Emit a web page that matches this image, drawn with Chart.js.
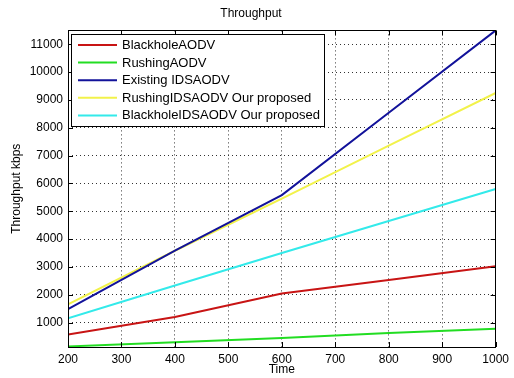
<!DOCTYPE html>
<html>
<head>
<meta charset="utf-8">
<script src="https://cdn.jsdelivr.net/npm/chart.js@4.4.1/dist/chart.umd.min.js"></script>
<style>
  body { margin: 0; background: #fff; }
  #wrap { width: 514px; height: 378px; position: relative; }
</style>
</head>
<body>
<div id="wrap"><canvas id="throughputChart"></canvas></div>
<script>
// values
const timeValues = [200, 400, 600, 800, 1000];
const blackholeAodv = [570, 1200, 2040, 2530, 3020];
const rushingAodv = [140, 290, 440, 620, 780];
const existingIdsAodv = [1480, 3580, 5580, 8540, 11500];
const rushingIdsAodv = [1650, 3580, 5450, 7360, 9250];
const blackholeIdsAodv = [1150, 2330, 3500, 4650, 5800];

const xTicks = [200, 300, 400, 500, 600, 700, 800, 900, 1000];
const yTicks = [1000, 2000, 3000, 4000, 5000, 6000, 7000, 8000, 9000, 10000, 11000];

const fontFamily = "'Liberation Sans', Arial, sans-serif";

function toPoints(arr) {
  return timeValues.map((t, i) => ({ x: t, y: arr[i] }));
}

function series(label, arr, color) {
  return {
    label: label,
    data: toPoints(arr),
    borderColor: color,
    backgroundColor: color,
    borderWidth: 2,
    pointRadius: 0,
    tension: 0,
    fill: false
  };
}

// MATLAB-like box, inward ticks and legend drawn on top
const matlabLook = {
  id: 'matlabLook',
  afterDatasetsDraw(chart) {
    const ctx = chart.ctx;
    const a = chart.chartArea;
    const xs = chart.scales.x, ys = chart.scales.y;
    ctx.save();
    ctx.strokeStyle = '#000';
    ctx.lineWidth = 1;
    ctx.setLineDash([]);
    ctx.beginPath();
    xTicks.forEach(v => {
      const px = Math.round(xs.getPixelForValue(v)) + 0.5;
      ctx.moveTo(px, a.bottom); ctx.lineTo(px, a.bottom - 5);
      ctx.moveTo(px, a.top); ctx.lineTo(px, a.top + 5);
    });
    yTicks.forEach(v => {
      const py = Math.round(ys.getPixelForValue(v)) + 0.5;
      ctx.moveTo(a.left, py); ctx.lineTo(a.left + 5, py);
      ctx.moveTo(a.right, py); ctx.lineTo(a.right - 5, py);
    });
    ctx.stroke();
    ctx.strokeRect(Math.round(a.left) + 0.5, Math.round(a.top) + 0.5,
      Math.round(a.right - a.left) - 1, Math.round(a.bottom - a.top));

    // legend
    const lx = 71.5, ly = 34.5, lw = 253, lh = 92;
    ctx.fillStyle = '#fff';
    ctx.fillRect(lx, ly, lw, lh);
    ctx.strokeRect(lx, ly, lw, lh);
    ctx.font = '13px ' + fontFamily;
    ctx.textBaseline = 'middle';
    chart.data.datasets.forEach((ds, i) => {
      const y = 45 + i * 17.6;
      ctx.strokeStyle = ds.borderColor;
      ctx.lineWidth = 2;
      ctx.beginPath();
      ctx.moveTo(78, y); ctx.lineTo(117, y);
      ctx.stroke();
      ctx.fillStyle = '#000';
      ctx.fillText(ds.label, 122, y + 0.5);
    });
    ctx.restore();
  }
};

new Chart(document.getElementById('throughputChart'), {
  type: 'line',
  data: {
    datasets: [
      series('BlackholeAODV', blackholeAodv, '#c81414'),
      series('RushingAODV', rushingAodv, '#22dd22'),
      series('Existing IDSAODV', existingIdsAodv, '#12129a'),
      series('RushingIDSAODV Our proposed', rushingIdsAodv, '#f2f24a'),
      series('BlackholeIDSAODV Our proposed', blackholeIdsAodv, '#33eaea')
    ]
  },
  options: {
    responsive: true,
    maintainAspectRatio: false,
    animation: false,
    layout: { padding: { left: 0, right: 12, top: 0, bottom: 0 } },
    plugins: {
      legend: { display: false },
      tooltip: { enabled: false },
      title: {
        display: true,
        text: 'Throughput',
        color: '#000',
        font: { family: fontFamily, size: 12, weight: 'normal' },
        padding: { top: 6, bottom: 10 }
      }
    },
    scales: {
      x: {
        type: 'linear',
        min: 200,
        max: 1000,
        afterBuildTicks: s => { s.ticks = xTicks.map(v => ({ value: v })); },
        afterFit: s => { s.height = 31; },
        ticks: {
          color: '#000',
          font: { family: fontFamily, size: 12 },
          padding: 5,
          maxRotation: 0,
          callback: v => String(v)
        },
        grid: { color: '#333', lineWidth: 1, drawTicks: false },
        border: { display: false, dash: [1, 3] },
        title: {
          display: true,
          text: 'Time',
          color: '#000',
          font: { family: fontFamily, size: 12 },
          padding: { top: 0, bottom: 1 }
        }
      },
      y: {
        type: 'linear',
        min: 120,
        max: 11500,
        afterBuildTicks: s => { s.ticks = yTicks.map(v => ({ value: v })); },
        afterFit: s => { s.width = 68; },
        ticks: {
          color: '#000',
          font: { family: fontFamily, size: 12 },
          padding: 5,
          callback: v => String(v)
        },
        grid: { color: '#333', lineWidth: 1, drawTicks: false },
        border: { display: false, dash: [1, 3] },
        title: {
          display: true,
          text: 'Throughput kbps',
          color: '#000',
          font: { family: fontFamily, size: 12 },
          padding: { top: 9, bottom: 0 }
        }
      }
    }
  },
  plugins: [matlabLook]
});
</script>
</body>
</html>
